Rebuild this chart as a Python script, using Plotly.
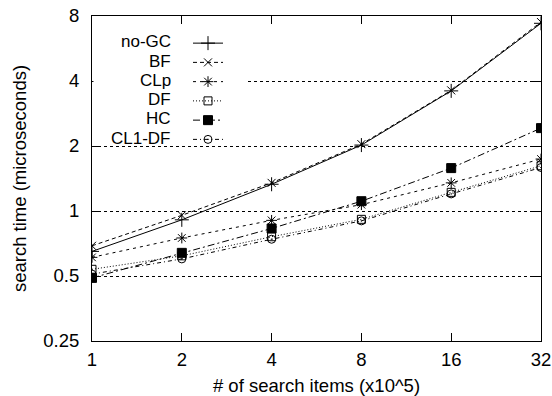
import plotly.graph_objects as go

x_items = [1, 2, 4, 8, 16, 32]
series_names = ["no-GC", "BF", "CLp", "DF", "HC", "CL1-DF"]
no_gc = [0.65, 0.91, 1.33, 2.02, 3.6, 7.4]
bf = [0.69, 0.955, 1.35, 2.04, 3.62, 7.5]
clp = [0.61, 0.75, 0.905, 1.07, 1.35, 1.74]
df = [0.537, 0.62, 0.76, 0.915, 1.22, 1.62]
hc = [0.49, 0.64, 0.83, 1.11, 1.58, 2.42]
cl1_df = [0.51, 0.60, 0.74, 0.90, 1.20, 1.59]
x_ticks = [1, 2, 4, 8, 16, 32]
y_ticks = [0.25, 0.5, 1, 2, 4, 8]
y_tick_text = ["0.25", "0.5", "1", "2", "4", "8"]

values = [no_gc, bf, clp, df, hc, cl1_df]
dashes = ["solid", "4px,3px", "3px,4px", "1px,2px", "7px,3px,2px,3px", "4px,3px,1px,3px"]
symbols = ["cross-thin-open", "x-thin-open", "asterisk-open", "square-open", "square", "circle-open-dot"]
sizes = [10, 8, 9, 8, 9, 8]

FONT = "Liberation Sans, Arial, Helvetica, sans-serif"
FS = 18.5
FS_KEY = 17
W, H = 552, 396
L, R, T, B = 92, 11, 16, 55
PW, PH = W - L - R, H - T - B

fig = go.Figure()
for name, v, d, s, sz in zip(series_names, values, dashes, symbols, sizes):
    fig.add_trace(go.Scatter(
        x=x_items, y=v, mode="lines+markers", name="",
        line=dict(color="black", width=1, dash=d),
        marker=dict(symbol=s, size=sz, color="black",
                    line=dict(color="black", width=1)),
        showlegend=True,
    ))

def py(ypx):
    return (H - B - ypx) / PH

def px(xpx):
    return (xpx - L) / PW

# white key background hiding grid
fig.add_shape(type="rect", xref="paper", yref="paper",
              x0=px(93.5), x1=px(245), y0=py(143), y1=py(27),
              fillcolor="white", line=dict(width=0), layer="above")

# legend text (right aligned, left of the legend samples)
ROW0, ROWSTEP = 41.8, 19.25
for i, name in enumerate(series_names):
    yy = ROW0 + i * ROWSTEP
    fig.add_annotation(x=px(172), y=py(yy), xref="paper", yref="paper",
                       text=name, showarrow=False, xanchor="right", yanchor="middle",
                       borderpad=0,
                       font=dict(family=FONT, size=FS_KEY, color="black"))

fig.update_layout(
    width=W, height=H,
    margin=dict(l=L, r=R, t=T, b=B, autoexpand=False),
    paper_bgcolor="white", plot_bgcolor="white",
    font=dict(family=FONT, size=FS, color="black"),
    legend=dict(x=px(188), y=py(28.5), xanchor="left", yanchor="top",
                bgcolor="rgba(0,0,0,0)", borderwidth=0,
                font=dict(size=12.5), tracegroupgap=0,
                itemwidth=30),
    showlegend=True,
)
fig.update_xaxes(
    type="log", range=[0, 1.50515], tickvals=x_ticks,
    ticktext=[str(t) for t in x_ticks], automargin=False,
    showline=True, linecolor="black", linewidth=1, mirror="ticks",
    ticks="inside", ticklen=8, tickcolor="black", tickwidth=1,
    showgrid=False, zeroline=False, ticklabelstandoff=2,
    title=dict(text="# of search items (x10^5)", standoff=17,
               font=dict(family=FONT, size=FS)),
    tickfont=dict(family=FONT, size=FS),
)
fig.update_yaxes(
    type="log", range=[-0.60206, 0.90309], tickvals=y_ticks, ticktext=y_tick_text,
    automargin=False,
    showline=True, linecolor="black", linewidth=1, mirror="ticks",
    ticks="inside", ticklen=8, tickcolor="black", tickwidth=1,
    showgrid=True, gridcolor="black", gridwidth=1, griddash="dot",
    zeroline=False, ticklabelstandoff=8,
    title=dict(text="search time (microseconds)", standoff=11,
               font=dict(family=FONT, size=FS)),
    tickfont=dict(family=FONT, size=FS),
)

fig.write_html("out.html")
